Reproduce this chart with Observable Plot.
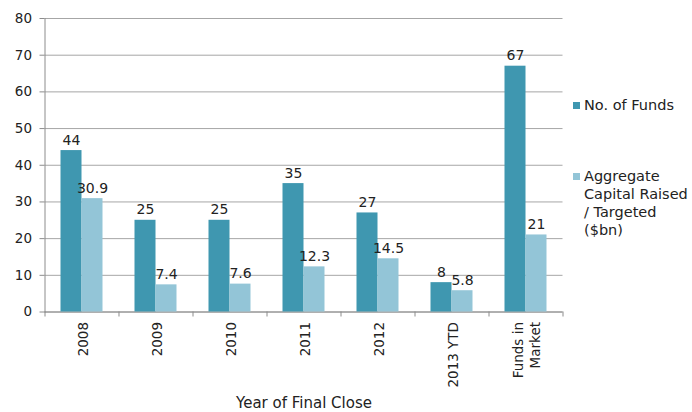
<!DOCTYPE html>
<html><head><meta charset="utf-8">
<script src="https://cdn.jsdelivr.net/npm/d3@7"></script>
<script src="https://cdn.jsdelivr.net/npm/@observablehq/plot@0.6"></script>
<style>
body{margin:0;background:#fff;font-family:"DejaVu Sans",sans-serif;}
#wrap{position:relative;width:692px;height:412px;}
.leg{position:absolute;left:573px;font-size:14.5px;color:#222;line-height:18px;}
.sw{position:absolute;left:0;top:6px;width:7px;height:7px;}
.lt{margin-left:11px;white-space:nowrap;}
</style></head><body><div id="wrap"></div>
<script>
const categories = ["2008","2009","2010","2011","2012","2013 YTD","Funds in\nMarket"];
const seriesNames = ["No. of Funds","Aggregate Capital Raised / Targeted ($bn)"];
const legendLines = [["No. of Funds"],["Aggregate","Capital Raised","/ Targeted","($bn)"]];
const numFunds = [44,25,25,35,27,8,67];
const capital = [30.9,7.4,7.6,12.3,14.5,5.8,21];
const yTicks = [0,10,20,30,40,50,60,70,80];
const colors = ["#3f97b0","#93c5d7"];
const xTitle = "Year of Final Close";

const W = 692, H = 412, ML = 44.5, MR = 129.5, MT = 18, MB = 100.5;
const halfStep = (W - ML - MR) / categories.length / 2;
const fundsData = categories.map((c,i)=>({cat:c, value:numFunds[i]}));
const capData = categories.map((c,i)=>({cat:c, value:capital[i]}));
const font = '"DejaVu Sans", sans-serif';

const chart = Plot.plot({
  width: W, height: H,
  marginLeft: ML, marginRight: MR, marginTop: MT, marginBottom: MB,
  style: {fontFamily: font, fontSize: "13px", color: "#222", background: "#fff"},
  x: {type: "band", domain: categories, paddingInner: 0.4324, paddingOuter: 0.2162, round: false, axis: null},
  y: {domain: [0, 80], axis: null},
  marks: [
    Plot.gridY(yTicks, {stroke: "#a6a6a6", strokeOpacity: 1}),
    Plot.axisY(yTicks, {tickSize: 5, tickPadding: 8, stroke: "#8c8c8c", fill: "#222", fontSize: 13.5, label: null}),
    Plot.frame({anchor: "left", stroke: "#8c8c8c"}),
    Plot.ruleY([0], {stroke: "#8c8c8c"}),
    Plot.axisX({tickSize: 5, tickFormat: () => "", dx: -halfStep, stroke: "#8c8c8c", label: null}),
    Plot.axisX([categories[categories.length-1]], {tickSize: 5, tickFormat: () => "", dx: halfStep, stroke: "#8c8c8c", label: null}),
    Plot.text(categories, {x: d => d, text: d => d, frameAnchor: "bottom", rotate: -90, textAnchor: "end", lineAnchor: "middle", lineHeight: 1.3, dy: 10, fill: "#222", fontSize: 13.5}),
    Plot.barY(fundsData, {x: "cat", y: "value", fill: colors[0], insetRight: halfStep * 0.5676}),
    Plot.barY(capData, {x: "cat", y: "value", fill: colors[1], insetLeft: halfStep * 0.5676}),
    Plot.text(fundsData, {x: "cat", y: "value", text: d => String(d.value), dx: -halfStep * 0.5676 / 2, dy: -6, lineAnchor: "bottom", fill: "#222", fontSize: 14}),
    Plot.text(capData, {x: "cat", y: "value", text: d => String(d.value), dx: halfStep * 0.5676 / 2, dy: -6, lineAnchor: "bottom", fill: "#222", fontSize: 14}),
    Plot.text([xTitle], {frameAnchor: "bottom", text: d => d, dy: 96, lineAnchor: "bottom", fill: "#222", fontSize: 15})
  ]
});
const wrap = document.getElementById("wrap");
wrap.appendChild(chart);
const tops = [96, 167];
legendLines.forEach((lines, i) => {
  const d = document.createElement("div");
  d.className = "leg";
  d.style.top = tops[i] + "px";
  d.innerHTML = `<div class="sw" style="background:${colors[i]}"></div><div class="lt">${lines.join("<br>")}</div>`;
  d.title = seriesNames[i];
  wrap.appendChild(d);
});
</script></body></html>
